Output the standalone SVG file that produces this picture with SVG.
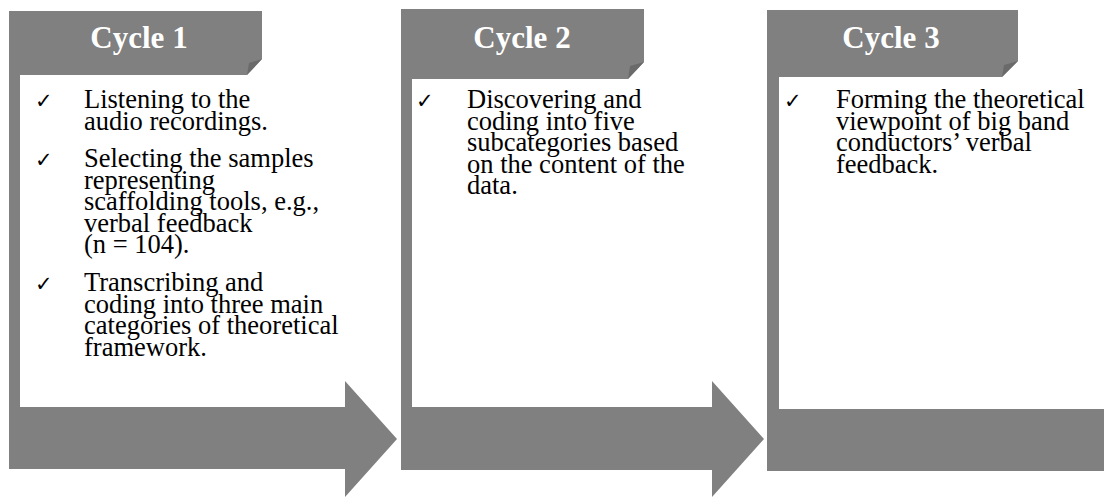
<svg xmlns="http://www.w3.org/2000/svg" width="1104" height="497" viewBox="0 0 1104 497">
<style>
.g{fill:#808080}
.fold{fill:#6a6a6a}
.h{font-family:"Liberation Serif","Times New Roman",serif;font-weight:bold;font-size:31px;fill:#ffffff;text-anchor:middle}
.t{font-family:"Liberation Serif","Times New Roman",serif;font-size:26.5px;fill:#000000}
.ck{font-family:"DejaVu Sans",sans-serif;font-size:21px;fill:#000000}
</style>
<rect width="1104" height="497" fill="#ffffff"/>
<g id="connectors">
<path class="g" d="M9,407 H345 V381 L397,439 L345,497 V469 H9 Z"/>
<path class="g" d="M401,407 H712 V381 L764,439 L712,497 V470 H401 Z"/>
<path class="g" d="M767,409 H1104 V471 H767 Z"/>
</g>
<g id="cycle1">
<path class="g" d="M9,11 H262 V59 L247,75 H20 V407 H9 Z"/>
<path class="fold" d="M262,59 L247,75 L249,63 Z"/>
<text class="h" x="139" y="48">Cycle 1</text>
<text class="ck" x="35" y="108">✓</text>
<text class="t" x="84" y="108">Listening to the</text>
<text class="t" x="84" y="129.5">audio recordings.</text>
<text class="ck" x="35" y="167">✓</text>
<text class="t" x="84" y="167">Selecting the samples</text>
<text class="t" x="84" y="188.5">representing</text>
<text class="t" x="84" y="210">scaffolding tools, e.g.,</text>
<text class="t" x="84" y="231.5">verbal feedback</text>
<text class="t" x="84" y="253">(n = 104).</text>
<text class="ck" x="35" y="291">✓</text>
<text class="t" x="84" y="291">Transcribing and</text>
<text class="t" x="84" y="312.5">coding into three main</text>
<text class="t" x="84" y="334">categories of theoretical</text>
<text class="t" x="84" y="355.5">framework.</text>
</g>
<g id="cycle2">
<path class="g" d="M401,9 H644 V62 L628,79 H412 V407 H401 Z"/>
<path class="fold" d="M644,62 L628,79 L630,66 Z"/>
<text class="h" x="522" y="48">Cycle 2</text>
<text class="ck" x="416" y="108">✓</text>
<text class="t" x="467" y="108">Discovering and</text>
<text class="t" x="467" y="129.5">coding into five</text>
<text class="t" x="467" y="151">subcategories based</text>
<text class="t" x="467" y="172.5">on the content of the</text>
<text class="t" x="467" y="194">data.</text>
</g>
<g id="cycle3">
<path class="g" d="M767,10 H1018 V61 L1002,77 H779 V409 H767 Z"/>
<path class="fold" d="M1018,61 L1002,77 L1004,65 Z"/>
<text class="h" x="891" y="48">Cycle 3</text>
<text class="ck" x="784" y="108">✓</text>
<text class="t" x="836" y="108">Forming the theoretical</text>
<text class="t" x="836" y="129.5">viewpoint of big band</text>
<text class="t" x="836" y="151">conductors’ verbal</text>
<text class="t" x="836" y="172.5">feedback.</text>
</g>
</svg>
